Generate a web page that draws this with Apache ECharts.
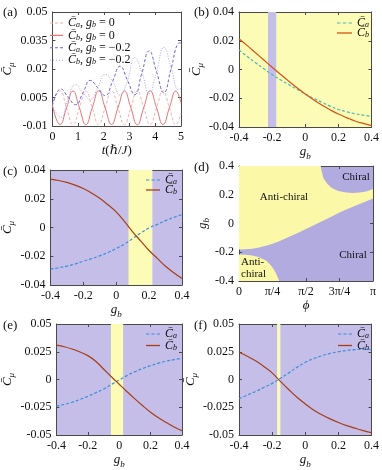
<!DOCTYPE html>
<html>
<head>
<meta charset="utf-8">
<script src="https://cdn.jsdelivr.net/npm/echarts@6/dist/echarts.min.js"></script>
<style>
  html, body { margin: 0; padding: 0; background: #fff; }
  #main { width: 382px; height: 470px; }
</style>
</head>
<body>
<div id="main"></div>
<script>
// ---------- panel (a): time evolution ----------
var tRed = [0, 0.3, 0.55, 0.8, 1.05, 1.3, 1.55, 1.8, 2.05, 2.3, 2.55, 2.8, 3.05, 3.3, 3.55, 3.8, 4.05, 4.3, 4.55, 4.8, 5.0];
var caG0 = [0.001, 0.0085, -0.0004, -0.0093, -0.0004, 0.0084, -0.0004, -0.0092, -0.0004, 0.0085, -0.0004, -0.0093, -0.0004, 0.0084, -0.0004, -0.0092, -0.0004, 0.0085, -0.0004, -0.0093, -0.0032];
var cbG0 = [0.001, -0.0092, -0.0004, 0.0084, -0.0004, -0.0093, -0.0004, 0.0085, -0.0004, -0.0092, -0.0004, 0.0084, -0.0004, -0.0093, -0.0004, 0.0085, -0.0004, -0.0092, -0.0004, 0.0084, 0.0022];
var tBlue = [0, 0.33, 0.62, 0.9, 1.19, 1.47, 1.76, 2.05, 2.34, 2.63, 2.92, 3.2, 3.48, 3.76, 4.05, 4.33, 4.62, 4.9, 5.0];
var caG2 = [0.0006, 0.0095, 0.005, 0.0012, 0.0075, 0.014, 0.0102, 0.006, 0.0135, 0.0215, 0.014, 0.0065, 0.018, 0.0295, 0.0185, 0.0075, 0.0205, 0.0335, 0.0338];
var cbG2 = [0.0006, -0.0055, 0.005, 0.0118, 0.0075, 0.004, 0.0102, 0.0172, 0.0135, 0.0062, 0.014, 0.026, 0.018, 0.007, 0.0185, 0.0314, 0.0205, 0.0092, 0.0097];
var aYTicks = [-0.01, 0.005, 0.02, 0.035, 0.05];

// ---------- panels (b), (c), (e), (f): C vs g_b ----------
var gVals = [-0.4, -0.35, -0.3, -0.25, -0.2, -0.15, -0.1, -0.05, 0, 0.05, 0.1, 0.15, 0.2, 0.25, 0.3, 0.35, 0.4];
var bCa = [0.0135, 0.009, 0.0047, 0.0005, -0.0035, -0.0072, -0.0105, -0.0138, -0.017, -0.0201, -0.0228, -0.0255, -0.0278, -0.0295, -0.0307, -0.0318, -0.0326];
var bCb = [0.0214, 0.0166, 0.0116, 0.0066, 0.0016, -0.0033, -0.0081, -0.0127, -0.017, -0.021, -0.0247, -0.028, -0.031, -0.0335, -0.0358, -0.0375, -0.039];
var cCa = [-0.029, -0.028, -0.0269, -0.0254, -0.0234, -0.0217, -0.0197, -0.0174, -0.0146, -0.0115, -0.0077, -0.0037, -0.0003, 0.0022, 0.0048, 0.007, 0.009];
var cCb = [0.0336, 0.0327, 0.0314, 0.0295, 0.0271, 0.024, 0.0203, 0.0158, 0.0109, 0.0042, -0.003, -0.0095, -0.016, -0.0215, -0.027, -0.0315, -0.0355];
var eCa = [-0.024, -0.0225, -0.0205, -0.018, -0.0152, -0.012, -0.0087, -0.0045, -0.0005, 0.0035, 0.007, 0.0099, 0.0125, 0.0147, 0.0165, 0.0179, 0.019];
var eCb = [0.031, 0.0295, 0.0275, 0.0248, 0.0215, 0.0165, 0.0095, 0.0025, -0.0043, -0.011, -0.0175, -0.0237, -0.0295, -0.0345, -0.0388, -0.0428, -0.0462];
var fCa = [-0.0173, -0.014, -0.0108, -0.0072, -0.0035, 0.001, 0.0058, 0.011, 0.0155, 0.0188, 0.0214, 0.0235, 0.025, 0.0262, 0.0269, 0.0271, 0.027];
var fCb = [0.0245, 0.021, 0.0168, 0.0118, 0.006, -0.0017, -0.009, -0.016, -0.022, -0.0275, -0.0318, -0.0355, -0.0387, -0.0415, -0.0438, -0.046, -0.048];
var bandB = [-0.225, -0.175];  // chiral strip in (b)
var bandC = [0.075, 0.22];     // anti-chiral strip in (c)
var bandE = [-0.053, 0.025];
var bandF = [-0.17, -0.15];

// ---------- panel (d): phase diagram (phi in units of pi) ----------
var phiTR = [0.61, 0.615, 0.63, 0.66, 0.69, 0.73, 0.76, 0.8, 0.85, 0.9, 0.95, 1.0];
var gTR = [0.4, 0.37, 0.315, 0.275, 0.248, 0.23, 0.222, 0.216, 0.213, 0.215, 0.223, 0.24];
var phiMid = [0, 0.05, 0.1, 0.15, 0.2, 0.25, 0.3, 0.35, 0.4, 0.45, 0.5, 0.55, 0.6, 0.65, 0.7, 0.75, 0.8, 0.85, 0.9, 0.95, 1.0];
var gMid = [-0.18, -0.179, -0.176, -0.167, -0.155, -0.14, -0.123, -0.103, -0.082, -0.06, -0.038, -0.015, 0.007, 0.03, 0.053, 0.076, 0.097, 0.117, 0.136, 0.155, 0.174];
var phiLL = [0, 0.05, 0.1, 0.15, 0.2, 0.225, 0.25, 0.27, 0.285, 0.3];
var gLL = [-0.216, -0.217, -0.223, -0.235, -0.258, -0.279, -0.306, -0.335, -0.365, -0.4];
var phiTickLabels = ['0', 'π/4', 'π/2', '3π/4', 'π'];

var SERIF = '"Liberation Serif", "DejaVu Serif", serif';
var axisCol = '#4a4a4a';
var yel = '#fdfcb6', pur = '#c4bee8';
var yelD = '#fbf9a8', purD = '#b1abe0';
// line colours seen through the yellow / purple patches
var caYel = '#4db9b4', caPur = '#3b8ed9';
var cbYel = '#d75212', cbPur = '#a73e17';

// legend sample icons
var ICON_SOLID = 'rect';
var ICON_DASH = 'path://M0,0h3v1h-3zM5,0h3v1h-3zM10,0h3v1h-3z';
var ICON_DOT = 'path://M0,0h1v1h-1zM3,0h1v1h-1zM6,0h1v1h-1zM9,0h1v1h-1zM12,0h1v1h-1z';

var richSub = {
  i: { fontStyle: 'italic', fontFamily: SERIF, fontSize: 13, lineHeight: 18, verticalAlign: 'middle' },
  n: { fontFamily: SERIF, fontSize: 13, lineHeight: 18, verticalAlign: 'middle' },
  s: { fontStyle: 'italic', fontFamily: SERIF, fontSize: 9, lineHeight: 10, verticalAlign: 'bottom' }
};
var richLeg = {
  i: { fontStyle: 'italic', fontFamily: SERIF, fontSize: 12, lineHeight: 12, verticalAlign: 'middle' },
  n: { fontFamily: SERIF, fontSize: 12, lineHeight: 12, verticalAlign: 'middle' },
  s: { fontStyle: 'italic', fontFamily: SERIF, fontSize: 8, lineHeight: 8, verticalAlign: 'bottom' }
};

function numFmt(v) { return String(parseFloat(v.toFixed(4))); }

function frameX(grid, min, max, step, name, gap, fmt) {
  var base = {
    gridIndex: grid, type: 'value', min: min, max: max, interval: step,
    axisLine: { show: true, onZero: false, lineStyle: { color: axisCol, width: 1 } },
    axisTick: { inside: true, length: 3, lineStyle: { color: axisCol } },
    splitLine: { show: false }
  };
  return [
    Object.assign({}, base, {
      position: 'bottom', name: name, nameLocation: 'middle', nameGap: gap,
      nameTextStyle: { color: '#111', rich: richSub },
      axisLabel: { margin: 5, color: '#111', fontFamily: SERIF, fontSize: 12, formatter: fmt || numFmt }
    }),
    Object.assign({}, base, { position: 'top', axisLabel: { show: false } })
  ];
}

function frameY(grid, min, max, step, name, gap, custom) {
  var base = {
    gridIndex: grid, type: 'value', min: min, max: max, interval: step,
    axisLine: { show: true, onZero: false, lineStyle: { color: axisCol, width: 1 } },
    axisTick: { inside: true, length: 3, lineStyle: { color: axisCol } },
    splitLine: { show: false }
  };
  if (custom) base.axisTick.customValues = custom;
  var lab = { margin: 5, color: '#111', fontFamily: SERIF, fontSize: 12, formatter: numFmt };
  if (custom) lab.customValues = custom;
  return [
    Object.assign({}, base, {
      position: 'left', name: name, nameLocation: 'middle', nameGap: gap,
      nameTextStyle: { color: '#111', rich: richSub }, axisLabel: lab
    }),
    Object.assign({}, base, { position: 'right', axisLabel: { show: false } })
  ];
}

var CMU = '{i|C\u0304}{s|μ}';
var GB = '{i|g}{s|b}';

var grids = [
  { left: 48, top: 12, width: 133, height: 114 },
  { left: 239, top: 12, width: 134, height: 115, show: true, backgroundColor: yel, borderWidth: 0 },
  { left: 48, top: 170, width: 134, height: 115, show: true, backgroundColor: pur, borderWidth: 0 },
  { left: 239, top: 166, width: 134, height: 115, show: true, backgroundColor: purD, borderWidth: 0 },
  { left: 48, top: 324, width: 134, height: 113, show: true, backgroundColor: pur, borderWidth: 0 },
  { left: 239, top: 324, width: 134, height: 113, show: true, backgroundColor: pur, borderWidth: 0 }
];

var xAxes = [].concat(
  frameX(0, 0, 5, 1, '{i|t}{n|(ℏ/}{i|J}{n|)}', 16),
  frameX(1, -0.4, 0.4, 0.2, GB, 16),
  frameX(2, -0.4, 0.4, 0.2, GB, 16),
  frameX(3, 0, 1, 0.25, '{i|ϕ}', 16, function (v) { return phiTickLabels[Math.round(v / 0.25)]; }),
  frameX(4, -0.4, 0.4, 0.2, GB, 16),
  frameX(5, -0.4, 0.4, 0.2, GB, 16)
);
var yAxes = [].concat(
  frameY(0, -0.01, 0.05, 0.015, CMU, 30, aYTicks),
  frameY(1, -0.04, 0.04, 0.02, CMU, 30),
  frameY(2, -0.04, 0.04, 0.02, CMU, 30),
  frameY(3, -0.4, 0.4, 0.2, GB, 26),
  frameY(4, -0.05, 0.05, 0.025, CMU, 30),
  frameY(5, -0.05, 0.05, 0.025, CMU, 30)
);

function pairs(xs, ys) { return xs.map(function (x, i) { return [x, ys[i]]; }); }

function tLine(name, xs, ys, color, type, width) {
  return {
    name: name, type: 'line', xAxisIndex: 0, yAxisIndex: 0, data: pairs(xs, ys),
    symbol: 'none', smooth: 0.5, silent: true,
    itemStyle: { color: color },
    lineStyle: { color: color, width: width, type: type }
  };
}

function gLine(name, grid, ys, color, dashed, band, bandColor) {
  var s = {
    name: name, type: 'line', xAxisIndex: 2 * grid, yAxisIndex: 2 * grid,
    data: pairs(gVals, ys), symbol: 'none', smooth: 0.4, silent: true,
    itemStyle: { color: color },
    lineStyle: { color: color, width: 1.2, type: dashed ? [3, 2] : 'solid' }
  };
  if (band) {
    s.markArea = {
      silent: true, itemStyle: { color: bandColor, opacity: 1 },
      data: [[{ xAxis: band[0] }, { xAxis: band[1] }]]
    };
  }
  return s;
}

var series = [
  tLine('a1', tRed, caG0, '#f2b3b3', [3, 2], 1),
  tLine('a2', tRed, cbG0, '#e57575', 'solid', 1),
  tLine('a3', tBlue, caG2, '#6767dd', [3, 2], 1),
  tLine('a4', tBlue, cbG2, '#a8a9ee', [1, 1.5], 1),
  gLine('bCa', 1, bCa, caYel, true, bandB, pur),
  gLine('bCb', 1, bCb, cbYel, false),
  gLine('cCa', 2, cCa, caPur, true, bandC, yel),
  gLine('cCb', 2, cCb, cbPur, false),
  {
    type: 'custom', xAxisIndex: 6, yAxisIndex: 6, silent: true, data: [[0], [1]],
    renderItem: function (params, api) {
      var pts;
      if (params.dataIndex === 0) {
        pts = [[0, -0.18], [0, 0.4]].concat(pairs(phiTR, gTR), [[1, 0.174]], pairs(phiMid, gMid).reverse());
      } else {
        pts = pairs(phiLL, gLL).concat([[0, -0.4]]);
      }
      return {
        type: 'polygon',
        shape: { points: pts.map(function (p) { return api.coord(p); }) },
        style: { fill: yelD }
      };
    }
  },
  gLine('eCa', 4, eCa, caPur, true, bandE, yel),
  gLine('eCb', 4, eCb, cbPur, false),
  gLine('fCa', 5, fCa, caPur, true, bandF, yel),
  gLine('fCb', 5, fCb, cbPur, false)
];

function bandMap(idx, band, outside, inside) {
  return {
    type: 'piecewise', show: false, seriesIndex: idx, dimension: 0,
    pieces: [
      { lt: band[0], color: outside },
      { gte: band[0], lte: band[1], color: inside },
      { gt: band[1], color: outside }
    ]
  };
}

var visualMaps = [
  bandMap(4, bandB, caYel, caPur), bandMap(5, bandB, cbYel, cbPur),
  bandMap(6, bandC, caPur, caYel), bandMap(7, bandC, cbPur, cbYel),
  bandMap(9, bandE, caPur, caYel), bandMap(10, bandE, cbPur, cbYel),
  bandMap(11, bandF, caPur, caYel), bandMap(12, bandF, cbPur, cbYel)
];

var legendText = {
  a1: '{i|C\u0304}{s|a}{n|, }{i|g}{s|b}{n| = 0}',
  a2: '{i|C\u0304}{s|b}{n|, }{i|g}{s|b}{n| = 0}',
  a3: '{i|C\u0304}{s|a}{n|, }{i|g}{s|b}{n| = −0.2}',
  a4: '{i|C\u0304}{s|b}{n|, }{i|g}{s|b}{n| = −0.2}',
  bCa: '{i|C\u0304}{s|a}', bCb: '{i|C\u0304}{s|b}',
  cCa: '{i|C\u0304}{s|a}', cCb: '{i|C\u0304}{s|b}',
  eCa: '{i|C\u0304}{s|a}', eCb: '{i|C\u0304}{s|b}',
  fCa: '{i|C\u0304}{s|a}', fCb: '{i|C\u0304}{s|b}'
};

function legendBox(left, top, items, w, gap) {
  return {
    left: left, top: top, orient: 'vertical', padding: 0, itemWidth: w, itemHeight: 1.3, itemGap: gap,
    selectedMode: false,
    data: items.map(function (it) {
      return { name: it[0], icon: it[2], itemStyle: { color: it[1], borderWidth: 0 } };
    }),
    formatter: function (n) { return legendText[n]; },
    textStyle: { color: '#111', fontFamily: SERIF, fontSize: 12, rich: richLeg }
  };
}

var legends = [
  legendBox(50, 17, [['a1', '#f2b3b3', ICON_DASH], ['a2', '#e57575', ICON_SOLID],
    ['a3', '#6767dd', ICON_DASH], ['a4', '#a8a9ee', ICON_DOT]], 13, 0.4),
  legendBox(337, 17, [['bCa', caYel, ICON_DASH], ['bCb', cbYel, ICON_SOLID]], 15, -2),
  legendBox(146, 174, [['cCa', caPur, ICON_DASH], ['cCb', cbPur, ICON_SOLID]], 14, -2),
  legendBox(146, 328, [['eCa', caPur, ICON_DASH], ['eCb', cbPur, ICON_SOLID]], 14, -0.5),
  legendBox(338, 328, [['fCa', caPur, ICON_DASH], ['fCb', cbPur, ICON_SOLID]], 14, -0.5)
];

function label(txt, x, y, size, align) {
  return {
    type: 'text', x: x, y: y, silent: true, z: 100,
    style: { text: txt, fill: '#111', fontFamily: SERIF, fontSize: size, align: align || 'left', verticalAlign: 'middle' }
  };
}

var graphics = [
  label('(a)', 3, 13, 13), label('(b)', 194, 13, 13),
  label('(c)', 3, 172, 13), label('(d)', 194, 168, 13),
  label('(e)', 3, 326, 13), label('(f)', 194, 326, 13),
  label('Anti-chiral', 284, 197, 11, 'center'),
  label('Chiral', 356, 177, 11, 'center'),
  label('Chiral', 353, 255, 11, 'center'),
  label('Anti-', 241, 262, 11), label('chiral', 241, 274, 11)
];

var chart = echarts.init(document.getElementById('main'));
chart.setOption({
  animation: false,
  backgroundColor: '#fff',
  textStyle: { fontFamily: SERIF },
  grid: grids,
  xAxis: xAxes,
  yAxis: yAxes,
  legend: legends,
  visualMap: visualMaps,
  series: series,
  graphic: graphics
});
</script>
</body>
</html>
